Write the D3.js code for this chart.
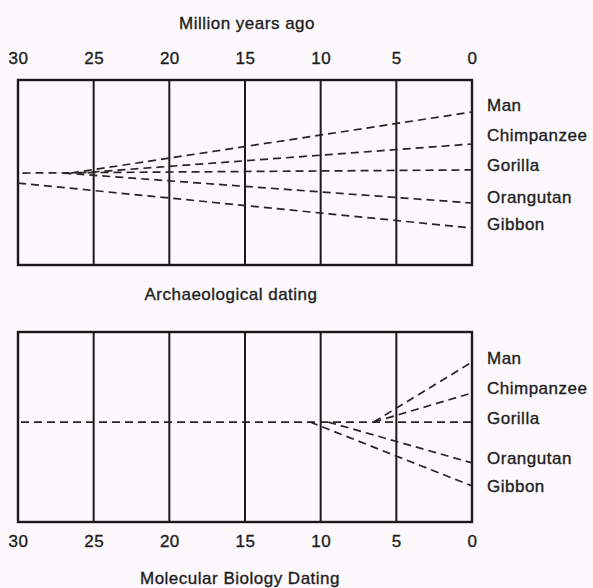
<!DOCTYPE html>
<html>
<head>
<meta charset="utf-8">
<script src="https://cdn.jsdelivr.net/npm/d3@7"></script>
<style>
  body { margin: 0; background: #fcf8fc; }
  svg { display: block; }
  text {
    font-family: "Liberation Sans", Arial, sans-serif;
    fill: #1e1e1e;
    stroke: #1e1e1e;
    stroke-width: 0.35px;
    letter-spacing: 0.5px;
  }
</style>
</head>
<body>
<div id="chart"></div>
<script>
// million years ago
const timeTicks = [30, 25, 20, 15, 10, 5, 0];
const species = ["Man", "Chimpanzee", "Gorilla", "Orangutan", "Gibbon"];

// lineage position, 0 = top of panel, 100 = bottom
const archaeoLines = [
  [[29.7, 50.3], [0, 48.6]],   // Gorilla (and shared stem)
  [[26.5, 50.3], [0, 17.3]],   // Man
  [[26.0, 50.3], [0, 34.6]],   // Chimpanzee
  [[27.0, 50.3], [0, 66.5]],   // Orangutan
  [[30.0, 55.7], [0, 80.0]]    // Gibbon
];
const archaeoLabelPos = [13.5, 29.7, 46, 63.2, 77.8];

const molecularLines = [
  [[29.8, 47.4], [0, 47.4]],   // Gorilla (and shared stem)
  [[6.5, 47.4], [0, 15.8]],    // Man
  [[6.5, 47.4], [0, 32.1]],    // Chimpanzee
  [[9.5, 47.4], [0, 68.9]],    // Orangutan
  [[10.7, 47.4], [0, 81.0]]    // Gibbon
];
const molecularLabelPos = [13.7, 29.5, 45.3, 66.3, 81];

const width = 593, height = 588;

const svg = d3.select("#chart")
  .append("svg")
  .attr("width", width)
  .attr("height", height);

const x = d3.scaleLinear().domain([30, 0]).range([18, 472]);

function panel(top, bottom, lines, labelPos) {
  const y = d3.scaleLinear().domain([0, 100]).range([top, bottom]);
  const g = svg.append("g");

  g.selectAll(".grid")
    .data(timeTicks.slice(1, -1))
    .enter()
    .append("line")
    .attr("x1", d => x(d))
    .attr("x2", d => x(d))
    .attr("y1", top)
    .attr("y2", bottom)
    .style("stroke", "#1a1a1a")
    .style("stroke-width", "2px");

  g.append("rect")
    .attr("x", x(30))
    .attr("y", top)
    .attr("width", x(0) - x(30))
    .attr("height", bottom - top)
    .style("fill", "none")
    .style("stroke", "#1a1a1a")
    .style("stroke-width", "2.4px");

  const line = d3.line().x(d => x(d[0])).y(d => y(d[1]));

  g.selectAll(".lineage")
    .data(lines)
    .enter()
    .append("path")
    .attr("d", line)
    .style("fill", "none")
    .style("stroke", "#262626")
    .style("stroke-width", "1.7px")
    .style("stroke-dasharray", "8,5");

  g.selectAll(".label")
    .data(species)
    .enter()
    .append("text")
    .attr("x", 487)
    .attr("y", (d, i) => y(labelPos[i]))
    .attr("dy", "0.35em")
    .style("font-size", "17px")
    .text(d => d);
}

panel(80, 265, archaeoLines, archaeoLabelPos);
panel(332, 522, molecularLines, molecularLabelPos);

// tick labels above top panel and below bottom panel
const axisTop = d3.axisTop(x).tickValues(timeTicks).tickSize(0).tickPadding(0);
const axisBottom = d3.axisBottom(x).tickValues(timeTicks).tickSize(0).tickPadding(0);

svg.append("g")
  .attr("transform", "translate(0,64)")
  .call(axisTop)
  .call(g => g.select(".domain").remove())
  .selectAll("text")
  .style("font-size", "17px")
  .style("font-family", "Liberation Sans, Arial, sans-serif")
  .attr("fill", "#1e1e1e");

svg.append("g")
  .attr("transform", "translate(0,535)")
  .call(axisBottom)
  .call(g => g.select(".domain").remove())
  .selectAll("text")
  .style("font-size", "17px")
  .style("font-family", "Liberation Sans, Arial, sans-serif")
  .attr("fill", "#1e1e1e");

svg.append("text")
  .attr("x", 247)
  .attr("y", 23)
  .attr("dy", "0.35em")
  .attr("text-anchor", "middle")
  .style("font-size", "17px")
  .text("Million years ago");

svg.append("text")
  .attr("x", 231)
  .attr("y", 294)
  .attr("dy", "0.35em")
  .attr("text-anchor", "middle")
  .style("font-size", "17px")
  .text("Archaeological dating");

svg.append("text")
  .attr("x", 240)
  .attr("y", 578)
  .attr("dy", "0.35em")
  .attr("text-anchor", "middle")
  .style("font-size", "17px")
  .text("Molecular Biology Dating");
</script>
</body>
</html>
